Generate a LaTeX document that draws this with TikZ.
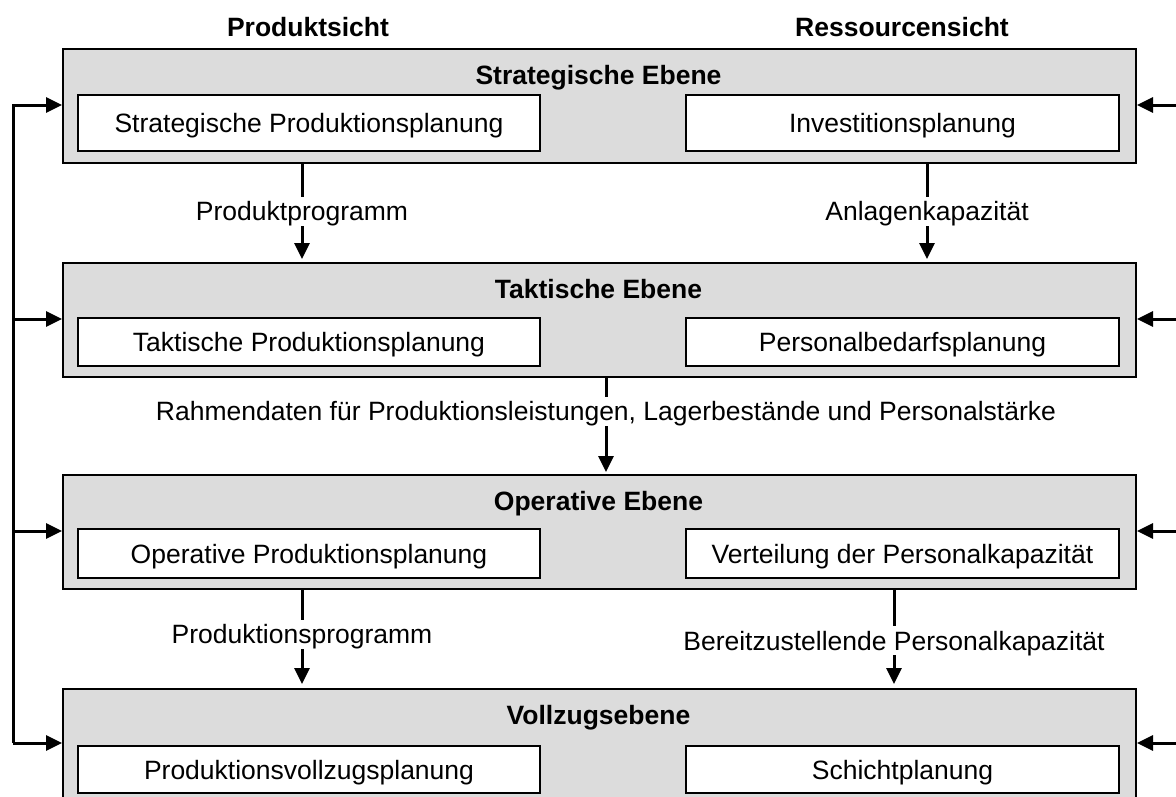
\documentclass[tikz,border=0pt]{standalone}
\usepackage{fontspec}
\setmainfont{Liberation Sans}
\usetikzlibrary{arrows.meta}
\definecolor{levelgray}{RGB}{220,220,220}
\tikzset{
  txt/.style={font=\fontsize{26.5}{30}\selectfont, text height=19pt, text depth=0pt},
  boldtxt/.style={font=\fontsize{26.5}{30}\selectfont\bfseries, text height=19pt, text depth=0pt},
  levelbox/.style={draw=black, line width=2pt, fill=levelgray, anchor=north west, inner sep=0pt, minimum width=1073pt, minimum height=114pt},
  taskbox/.style={draw=black, line width=2pt, fill=white, inner sep=0pt, txt},
  leftbox/.style={taskbox, minimum width=462pt},
  rightbox/.style={taskbox, minimum width=433pt},
  leveltitle/.style={boldtxt, inner sep=0pt},
  viewtitle/.style={boldtxt, inner sep=0pt},
  flowlabel/.style={txt, fill=white, inner xsep=3pt, inner ysep=5pt},
  flow/.style={line width=3pt, -{Triangle[length=16pt,width=15pt]}, line join=miter},
}
\begin{document}
\begin{tikzpicture}[x=1pt,y=-1pt]
\useasboundingbox (0,0) rectangle (1176,796);
\clip (0,0) rectangle (1176,796);

% column headings
\node[viewtitle] (prod) at (308,27) {Produktsicht};
\node[viewtitle] (ress) at (902,27) {Ressourcensicht};

% planning levels
\node[levelbox] (strat) at (62,48) {};
\node[levelbox] (takt)  at (62,262) {};
\node[levelbox] (oper)  at (62,474) {};
\node[levelbox] (voll)  at (62,688) {};

\node[leveltitle] (stratT) at (598.5,75)  {Strategische Ebene};
\node[leveltitle] (taktT)  at (598.5,289) {Taktische Ebene};
\node[leveltitle] (operT)  at (598.5,501) {Operative Ebene};
\node[leveltitle] (vollT)  at (598.5,715) {Vollzugsebene};

% planning tasks
\node[leftbox,  minimum height=56pt] (sp) at (309,123)   {Strategische Produktionsplanung};
\node[rightbox, minimum height=56pt] (sr) at (902.5,123) {Investitionsplanung};
\node[leftbox,  minimum height=48pt] (tp) at (309,342)   {Taktische Produktionsplanung};
\node[rightbox, minimum height=48pt] (tr) at (902.5,342) {Personalbedarfsplanung};
\node[leftbox,  minimum height=49pt] (op) at (309,553.5) {Operative Produktionsplanung};
\node[rightbox, minimum height=49pt] (or) at (902.5,553.5) {Verteilung der Personalkapazität};
\node[leftbox,  minimum height=47pt] (vp) at (309,769.5) {Produktionsvollzugsplanung};
\node[rightbox, minimum height=47pt] (vr) at (902.5,769.5) {Schichtplanung};

% flows between levels
\coordinate (a1) at (302,162);  \coordinate (a2) at (302,259);
\coordinate (b1) at (927,162);  \coordinate (b2) at (927,259);
\coordinate (c1) at (606,376);  \coordinate (c2) at (606,472);
\coordinate (d1) at (302,588);  \coordinate (d2) at (302,684);
\coordinate (e1) at (894,588);  \coordinate (e2) at (894,684);
\draw[flow] (a1) -- (a2);
\draw[flow] (b1) -- (b2);
\draw[flow] (c1) -- (c2);
\draw[flow] (d1) -- (d2);
\draw[flow] (e1) -- (e2);
\node[flowlabel] (la) at (302,211) {Produktprogramm};
\node[flowlabel] (lb) at (927,211) {Anlagenkapazität};
\node[flowlabel] (lc) at (606,411) {Rahmendaten für Produktionsleistungen, Lagerbestände und Personalstärke};
\node[flowlabel] (ld) at (302,634) {Produktionsprogramm};
\node[flowlabel] (le) at (894,640.5) {Bereitzustellende Personalkapazität};

% feedback on the left
\coordinate (l1) at (13,105);
\coordinate (l2) at (13,319);
\coordinate (l3) at (13,531);
\coordinate (l4) at (13,743);
\draw[flow] (l4) -- (l1) -- (l1 -| strat.west);
\draw[flow] (l2) -- (l2 -| takt.west);
\draw[flow] (l3) -- (l3 -| oper.west);
\draw[flow] (l4) -- (l4 -| voll.west);

% inputs on the right
\coordinate (r1) at (1178,105);
\coordinate (r2) at (1178,319);
\coordinate (r3) at (1178,531);
\coordinate (r4) at (1178,743);
\draw[flow] (r1) -- (r1 -| strat.east);
\draw[flow] (r2) -- (r2 -| takt.east);
\draw[flow] (r3) -- (r3 -| oper.east);
\draw[flow] (r4) -- (r4 -| voll.east);
\end{tikzpicture}
\end{document}
